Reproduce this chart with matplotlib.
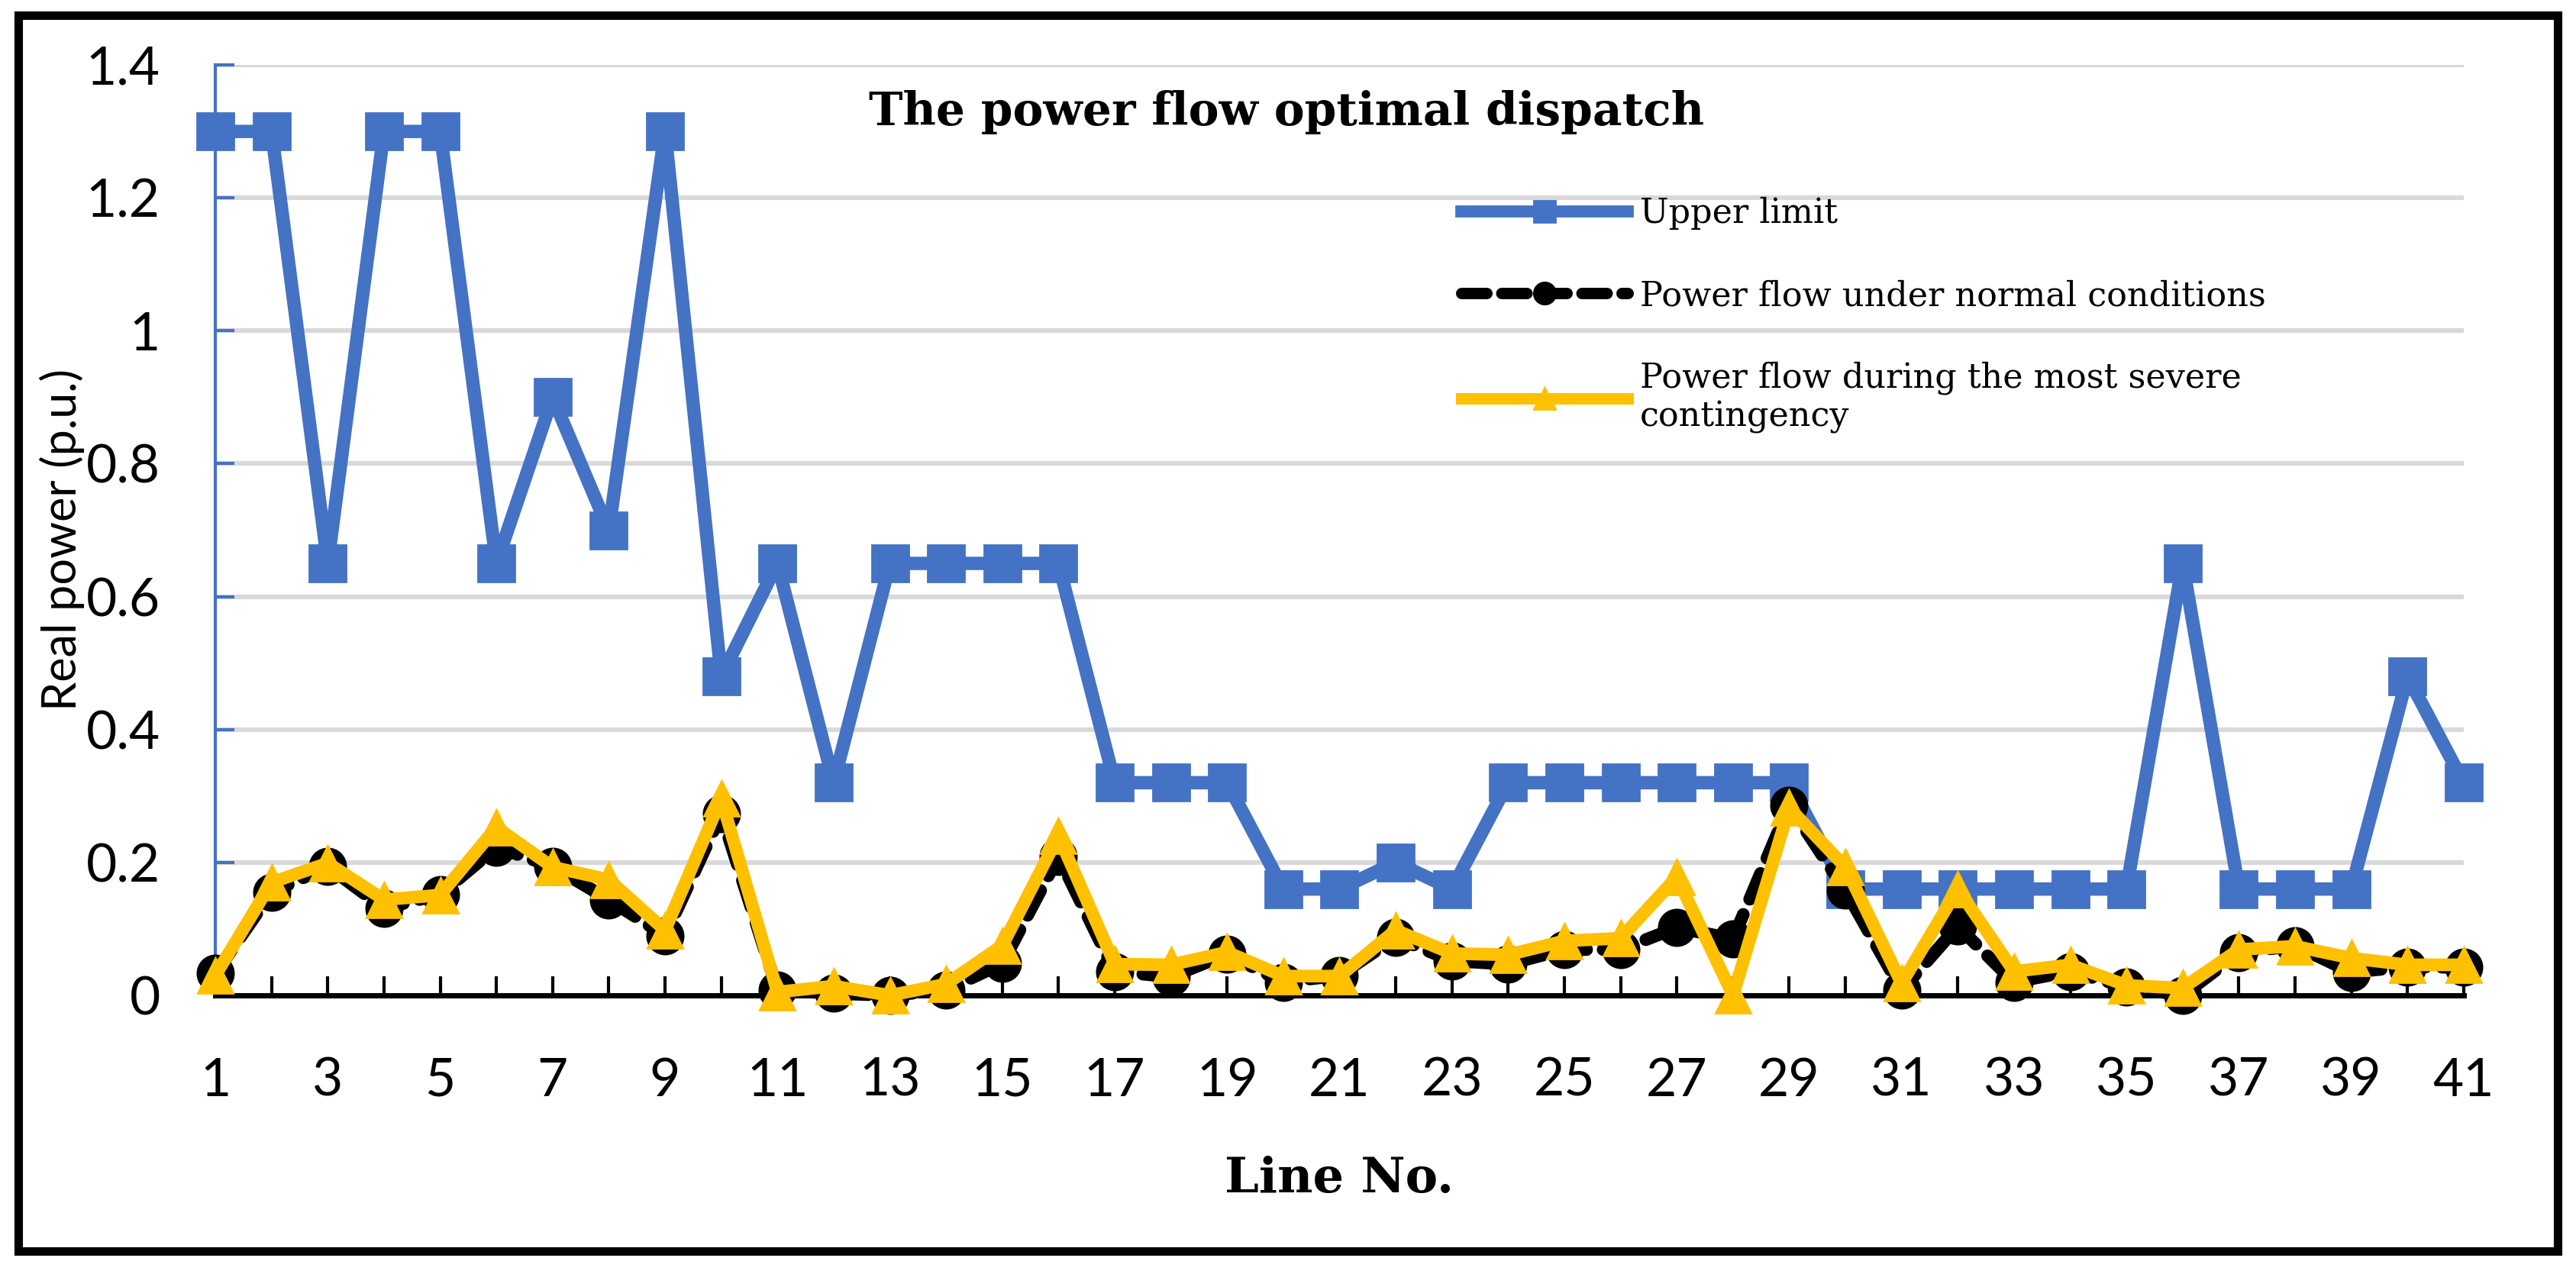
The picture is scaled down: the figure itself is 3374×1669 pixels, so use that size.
import matplotlib.pyplot as plt
from matplotlib.patches import Rectangle

lines = list(range(1, 42))

upper_limit = [1.3, 1.3, 0.65, 1.3, 1.3, 0.65, 0.9, 0.7, 1.3, 0.48,
               0.65, 0.32, 0.65, 0.65, 0.65, 0.65, 0.32, 0.32, 0.32, 0.16,
               0.16, 0.2, 0.16, 0.32, 0.32, 0.32, 0.32, 0.32, 0.32, 0.16,
               0.16, 0.16, 0.16, 0.16, 0.16, 0.65, 0.16, 0.16, 0.16, 0.48,
               0.32]

normal_flow = [0.033, 0.155, 0.194, 0.131, 0.152, 0.223, 0.194, 0.144, 0.09, 0.273,
               0.008, 0.003, 0.0, 0.008, 0.048, 0.209, 0.036, 0.028, 0.062, 0.02,
               0.03, 0.087, 0.052, 0.047, 0.069, 0.069, 0.102, 0.085, 0.286, 0.158,
               0.008, 0.104, 0.02, 0.036, 0.013, 0.0, 0.064, 0.075, 0.035, 0.043,
               0.042]

contingency_flow = [0.03, 0.17, 0.199, 0.144, 0.151, 0.253, 0.193, 0.174, 0.098, 0.296,
                    0.005, 0.014, 0.0, 0.017, 0.075, 0.24, 0.047, 0.046, 0.065, 0.029,
                    0.029, 0.098, 0.063, 0.061, 0.082, 0.086, 0.178, 0.0, 0.282, 0.193,
                    0.018, 0.16, 0.036, 0.046, 0.015, 0.011, 0.069, 0.074, 0.056, 0.046,
                    0.046]

labels = ["Upper limit",
          "Power flow under normal conditions",
          "Power flow during the most severe\ncontingency"]

blue = "#4472C4"
yellow = "#FFC000"

fig = plt.figure(figsize=(16.87, 8.345), dpi=200)
ax = fig.add_axes([0.0836, 0.2187, 0.8728, 0.7303])

# grid first so the lines sit on top
ax.set_axisbelow(True)
ax.yaxis.grid(True, color="#D9D9D9", linewidth=2.2)

ax.plot(lines, upper_limit, color=blue, linewidth=6.3, marker="s", markersize=17,
        clip_on=False, zorder=3, label=labels[0])
ax.plot(lines, normal_flow, color="black", linewidth=6, linestyle=(0, (2.2, 1.3)),
        dash_capstyle="round", marker="o", markersize=17, clip_on=False, zorder=4,
        label=labels[1])
ax.plot(lines, contingency_flow, color=yellow, linewidth=6, marker="^", markersize=16.5,
        clip_on=False, zorder=5, label=labels[2])

ax.set_xlim(1, 41)
ax.set_ylim(0, 1.4)
ax.set_yticks([0, 0.2, 0.4, 0.6, 0.8, 1, 1.2, 1.4])
ax.set_yticklabels(["0", "0.2", "0.4", "0.6", "0.8", "1", "1.2", "1.4"])
ax.set_xticks(lines)
ax.set_xticklabels([str(n) if n % 2 == 1 else "" for n in lines])

ax.spines["top"].set_visible(False)
ax.spines["right"].set_visible(False)
ax.spines["left"].set_color(blue)
ax.spines["left"].set_linewidth(1.5)
ax.spines["bottom"].set_color("black")
ax.spines["bottom"].set_linewidth(2.5)
ax.spines["bottom"].set_zorder(2.5)

ax.tick_params(axis="y", direction="in", length=9, width=1.5, color=blue, pad=26,
               labelsize=25)
ax.tick_params(axis="x", direction="in", length=9, width=1.5, color="black", pad=29,
               labelsize=25)
for t in ax.get_xticklabels() + ax.get_yticklabels():
    t.set_family("Lato")

ax.set_xlabel("Line No.", family="DejaVu Serif", fontweight="bold", fontsize=23,
              va="baseline")
ax.xaxis.set_label_coords(0.5, -0.2117)
ax.set_ylabel("Real power (p.u.)", family="Lato", fontsize=22)
ax.yaxis.set_label_coords(-0.058, 0.49)

fig.text(0.4994, 0.902, "The power flow optimal dispatch", family="DejaVu Serif",
         fontweight="bold", fontsize=21.5, ha="center", va="baseline")

leg = ax.legend(loc="upper left", bbox_to_anchor=(0.5608, 0.8586),
                bbox_transform=fig.transFigure, frameon=False, borderpad=0,
                handlelength=4.9, handletextpad=0.35, labelspacing=1.45,
                prop={"family": "DejaVu Serif", "size": 16})
for h in leg.legend_handles:
    h.set_markersize(h.get_markersize() * 0.6)
    h.set_linewidth(h.get_linewidth() * 0.9)

# outer frame around the whole picture
fig.patches.append(Rectangle((0.007, 0.018), 0.986, 0.97, transform=fig.transFigure,
                             fill=False, edgecolor="black", linewidth=4))

plt.savefig("out.png", dpi=200)
